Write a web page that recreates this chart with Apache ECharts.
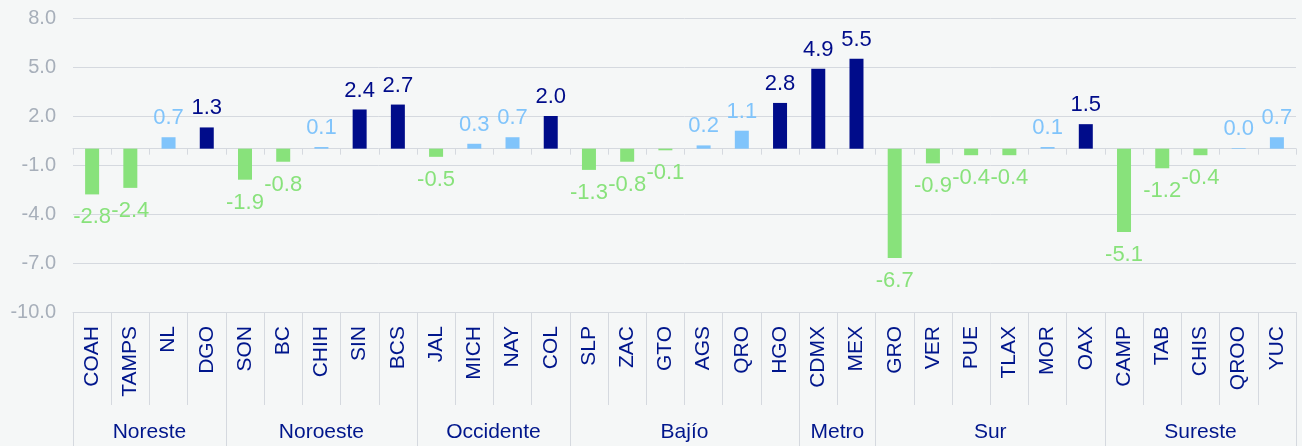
<!DOCTYPE html>
<html>
<head>
<meta charset="utf-8">
<style>
  html, body { margin: 0; padding: 0; background: #f5f7f7; }
  #main { width: 1302px; height: 446px; }
</style>
</head>
<body>
<div id="main"></div>
<script src="https://cdn.jsdelivr.net/npm/echarts@6/dist/echarts.min.js"></script>
<script>
// estados y variación
var states = ['COAH','TAMPS','NL','DGO','SON','BC','CHIH','SIN','BCS','JAL','MICH','NAY','COL',
              'SLP','ZAC','GTO','AGS','QRO','HGO','CDMX','MEX','GRO','VER','PUE','TLAX','MOR','OAX',
              'CAMP','TAB','CHIS','QROO','YUC'];
var values = [-2.8,-2.4,0.7,1.3,-1.9,-0.8,0.1,2.4,2.7,-0.5,0.3,0.7,2.0,
              -1.3,-0.8,-0.1,0.2,1.1,2.8,4.9,5.5,-6.7,-0.9,-0.4,-0.4,0.1,1.5,
              -5.1,-1.2,-0.4,0.04,0.7];
// regiones: nombre y número de estados
var regions = ['Noreste','Noroeste','Occidente','Bajío','Metro','Sur','Sureste'];
var regionSizes = [4,5,4,6,2,6,5];
var yTicks = [-10,-7,-4,-1,2,5,8];

var NAVY = '#000c8a', LIGHT = '#80c4fb', GREEN = '#88e27b';
var GRID = '#d5d9df';
var FONT = "'Liberation Sans', Arial, sans-serif";

function colorOf(v) {
    if (v < 0) return GREEN;
    if (v < 1.2) return LIGHT;
    return NAVY;
}

// limites y centros de cada región (en unidades de categoría)
var bounds = [0], centers = [];
var acc = 0;
for (var i = 0; i < regionSizes.length; i++) {
    centers.push(acc + regionSizes[i] / 2);
    acc += regionSizes[i];
    bounds.push(acc);
}

var barData = values.map(function (v) {
    var c = colorOf(v);
    return {
        value: v,
        itemStyle: { color: c },
        label: { position: v < 0 ? 'bottom' : 'top', distance: v < 0 ? 12 : 8, color: c }
    };
});

var myChart = echarts.init(document.getElementById('main'));

var option = {
    backgroundColor: '#f5f7f7',
    animation: false,
    grid: { left: 73, right: 6, top: 18, bottom: 134 },
    xAxis: [
        {
            // eje en cero
            type: 'category',
            data: states,
            position: 'bottom',
            axisLine: { onZero: true, lineStyle: { color: GRID, width: 1 } },
            axisTick: { show: true, interval: 0, length: 6, lineStyle: { color: GRID } },
            axisLabel: { show: false },
            splitLine: { show: false }
        },
        {
            // etiquetas de estados
            type: 'category',
            data: states,
            position: 'bottom',
            axisLine: { onZero: false, lineStyle: { color: GRID } },
            axisTick: { show: true, interval: 0, length: 93, lineStyle: { color: GRID } },
            axisLabel: {
                interval: 0, rotate: 90, margin: 14,
                color: '#00168c', fontSize: 21, fontFamily: FONT
            },
            splitLine: { show: false }
        },
        {
            // regiones
            type: 'value',
            min: 0,
            max: states.length,
            position: 'bottom',
            axisLine: { show: false, onZero: false },
            axisTick: { show: true, customValues: bounds, length: 134, lineStyle: { color: GRID } },
            axisLabel: {
                customValues: centers,
                margin: 110,
                color: '#00168c', fontSize: 21, fontFamily: FONT,
                formatter: function (v) {
                    var k = centers.indexOf(v);
                    return k >= 0 ? regions[k] : '';
                }
            },
            splitLine: { show: false }
        }
    ],
    yAxis: {
        type: 'value',
        min: yTicks[0],
        max: yTicks[yTicks.length - 1],
        interval: 3,
        axisLine: { show: false },
        axisTick: { show: false },
        axisLabel: {
            margin: 17, color: '#a7afba', fontSize: 20, fontFamily: FONT,
            formatter: function (v) { return v.toFixed(1); }
        },
        splitLine: { lineStyle: { color: GRID, width: 1 } }
    },
    series: [
        {
            type: 'bar',
            xAxisIndex: 0,
            barWidth: 14,
            data: barData,
            label: {
                show: true,
                fontSize: 22,
                fontFamily: FONT,
                formatter: function (p) { return p.value.toFixed(1); }
            }
        }
    ]
};

myChart.setOption(option);
</script>
</body>
</html>
